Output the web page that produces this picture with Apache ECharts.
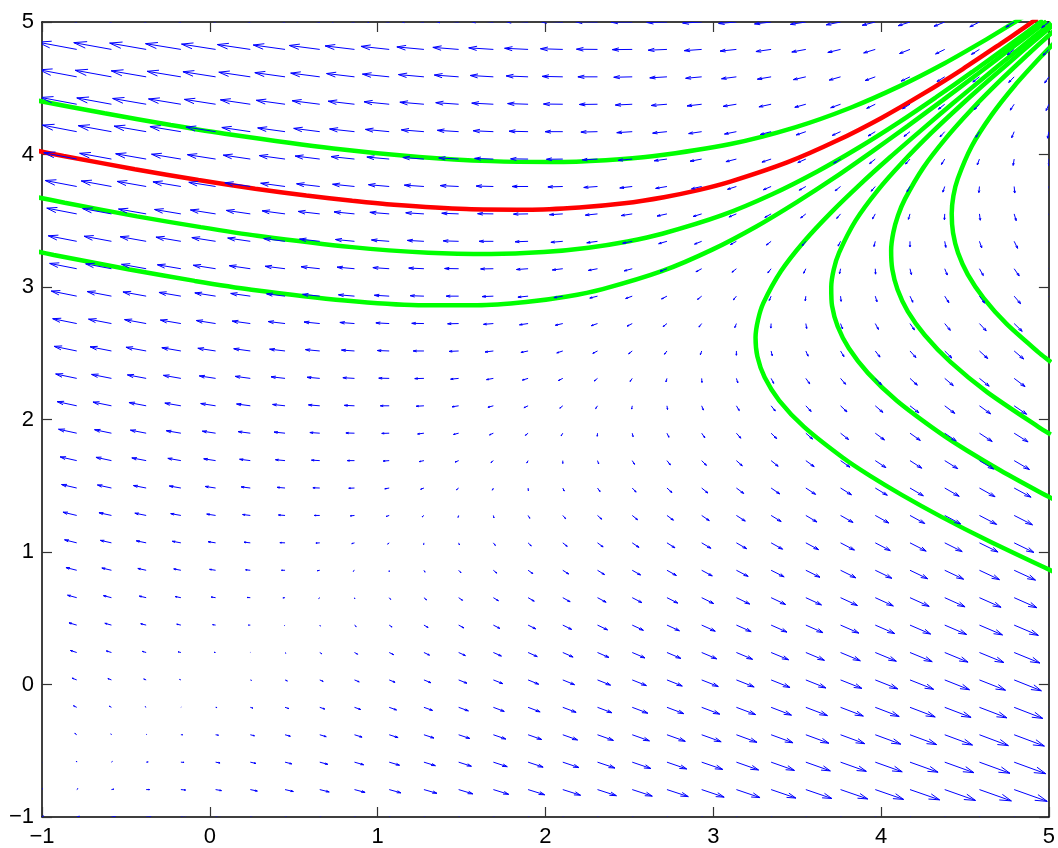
<!DOCTYPE html>
<html>
<head>
<meta charset="utf-8">
<script src="https://cdn.jsdelivr.net/npm/echarts@6/dist/echarts.min.js"></script>
<style>html,body{margin:0;padding:0;background:#fff}#c{width:1058px;height:848px}</style>
</head>
<body>
<div id="c"></div>
<script>
// Quiver grid (30 x 30)
var xs = [-1,-0.7931,-0.5862,-0.3793,-0.1724,0.0345,0.2414,0.4483,0.6552,0.8621,1.069,1.2759,1.4828,1.6897,1.8966,2.1034,2.3103,2.5172,2.7241,2.931,3.1379,3.3448,3.5517,3.7586,3.9655,4.1724,4.3793,4.5862,4.7931,5];
var ys = [-1,-0.7931,-0.5862,-0.3793,-0.1724,0.0345,0.2414,0.4483,0.6552,0.8621,1.069,1.2759,1.4828,1.6897,1.8966,2.1034,2.3103,2.5172,2.7241,2.931,3.1379,3.3448,3.5517,3.7586,3.9655,4.1724,4.3793,4.5862,4.7931,5];
// x-components, one row per ys value
var U = [
[1,1.8,2.7,3.5,4.3,5.1,6,6.8,7.6,8.4,9.3,10.1,10.9,11.8,12.6,13.4,14.2,15.1,15.9,16.7,17.6,18.4,19.2,20,20.9,21.7,22.5,23.3,24.2,25],
[0,0.8,1.6,2.4,3.3,4.1,4.9,5.8,6.6,7.4,8.2,9.1,9.9,10.7,11.6,12.4,13.2,14,14.9,15.7,16.5,17.3,18.2,19,19.8,20.7,21.5,22.3,23.1,24],
[-1.1,-0.2,0.6,1.4,2.2,3.1,3.9,4.7,5.6,6.4,7.2,8,8.9,9.7,10.5,11.3,12.2,13,13.8,14.7,15.5,16.3,17.1,18,18.8,19.6,20.4,21.3,22.1,22.9],
[-2.1,-1.3,-0.4,0.4,1.2,2,2.9,3.7,4.5,5.3,6.2,7,7.8,8.7,9.5,10.3,11.1,12,12.8,13.6,14.4,15.3,16.1,16.9,17.8,18.6,19.4,20.2,21.1,21.9],
[-3.1,-2.3,-1.5,-0.7,0.2,1,1.8,2.7,3.5,4.3,5.1,6,6.8,7.6,8.4,9.3,10.1,10.9,11.8,12.6,13.4,14.2,15.1,15.9,16.7,17.6,18.4,19.2,20,20.9],
[-4.2,-3.3,-2.5,-1.7,-0.9,0,0.8,1.6,2.4,3.3,4.1,4.9,5.8,6.6,7.4,8.2,9.1,9.9,10.7,11.6,12.4,13.2,14,14.9,15.7,16.5,17.3,18.2,19,19.8],
[-5.2,-4.4,-3.6,-2.7,-1.9,-1.1,-0.2,0.6,1.4,2.2,3.1,3.9,4.7,5.6,6.4,7.2,8,8.9,9.7,10.5,11.3,12.2,13,13.8,14.7,15.5,16.3,17.1,18,18.8],
[-6.2,-5.4,-4.6,-3.8,-2.9,-2.1,-1.3,-0.4,0.4,1.2,2,2.9,3.7,4.5,5.3,6.2,7,7.8,8.7,9.5,10.3,11.1,12,12.8,13.6,14.4,15.3,16.1,16.9,17.8],
[-7.3,-6.4,-5.6,-4.8,-4,-3.1,-2.3,-1.5,-0.7,0.2,1,1.8,2.7,3.5,4.3,5.1,6,6.8,7.6,8.4,9.3,10.1,10.9,11.8,12.6,13.4,14.2,15.1,15.9,16.7],
[-8.3,-7.5,-6.7,-5.8,-5,-4.2,-3.3,-2.5,-1.7,-0.9,0,0.8,1.6,2.4,3.3,4.1,4.9,5.8,6.6,7.4,8.2,9.1,9.9,10.7,11.6,12.4,13.2,14,14.9,15.7],
[-9.3,-8.5,-7.7,-6.9,-6,-5.2,-4.4,-3.6,-2.7,-1.9,-1.1,-0.2,0.6,1.4,2.2,3.1,3.9,4.7,5.6,6.4,7.2,8,8.9,9.7,10.5,11.3,12.2,13,13.8,14.7],
[-10.4,-9.6,-8.7,-7.9,-7.1,-6.2,-5.4,-4.6,-3.8,-2.9,-2.1,-1.3,-0.4,0.4,1.2,2,2.9,3.7,4.5,5.3,6.2,7,7.8,8.7,9.5,10.3,11.1,12,12.8,13.6],
[-11.4,-10.6,-9.8,-8.9,-8.1,-7.3,-6.4,-5.6,-4.8,-4,-3.1,-2.3,-1.5,-0.7,0.2,1,1.8,2.7,3.5,4.3,5.1,6,6.8,7.6,8.4,9.3,10.1,10.9,11.8,12.6],
[-12.4,-11.6,-10.8,-10,-9.1,-8.3,-7.5,-6.7,-5.8,-5,-4.2,-3.3,-2.5,-1.7,-0.9,0,0.8,1.6,2.4,3.3,4.1,4.9,5.8,6.6,7.4,8.2,9.1,9.9,10.7,11.6],
[-13.5,-12.7,-11.8,-11,-10.2,-9.3,-8.5,-7.7,-6.9,-6,-5.2,-4.4,-3.6,-2.7,-1.9,-1.1,-0.2,0.6,1.4,2.2,3.1,3.9,4.7,5.6,6.4,7.2,8,8.9,9.7,10.5],
[-14.5,-13.7,-12.9,-12,-11.2,-10.4,-9.6,-8.7,-7.9,-7.1,-6.2,-5.4,-4.6,-3.8,-2.9,-2.1,-1.3,-0.4,0.4,1.2,2,2.9,3.7,4.5,5.3,6.2,7,7.8,8.7,9.5],
[-15.6,-14.7,-13.9,-13.1,-12.2,-11.4,-10.6,-9.8,-8.9,-8.1,-7.3,-6.4,-5.6,-4.8,-4,-3.1,-2.3,-1.5,-0.7,0.2,1,1.8,2.7,3.5,4.3,5.1,6,6.8,7.6,8.4],
[-16.6,-15.8,-14.9,-14.1,-13.3,-12.4,-11.6,-10.8,-10,-9.1,-8.3,-7.5,-6.7,-5.8,-5,-4.2,-3.3,-2.5,-1.7,-0.9,0,0.8,1.6,2.4,3.3,4.1,4.9,5.8,6.6,7.4],
[-17.6,-16.8,-16,-15.1,-14.3,-13.5,-12.7,-11.8,-11,-10.2,-9.3,-8.5,-7.7,-6.9,-6,-5.2,-4.4,-3.6,-2.7,-1.9,-1.1,-0.2,0.6,1.4,2.2,3.1,3.9,4.7,5.6,6.4],
[-18.7,-17.8,-17,-16.2,-15.3,-14.5,-13.7,-12.9,-12,-11.2,-10.4,-9.6,-8.7,-7.9,-7.1,-6.2,-5.4,-4.6,-3.8,-2.9,-2.1,-1.3,-0.4,0.4,1.2,2,2.9,3.7,4.5,5.3],
[-19.7,-18.9,-18,-17.2,-16.4,-15.6,-14.7,-13.9,-13.1,-12.2,-11.4,-10.6,-9.8,-8.9,-8.1,-7.3,-6.4,-5.6,-4.8,-4,-3.1,-2.3,-1.5,-0.7,0.2,1,1.8,2.7,3.5,4.3],
[-20.7,-19.9,-19.1,-18.2,-17.4,-16.6,-15.8,-14.9,-14.1,-13.3,-12.4,-11.6,-10.8,-10,-9.1,-8.3,-7.5,-6.7,-5.8,-5,-4.2,-3.3,-2.5,-1.7,-0.9,0,0.8,1.6,2.4,3.3],
[-21.8,-20.9,-20.1,-19.3,-18.4,-17.6,-16.8,-16,-15.1,-14.3,-13.5,-12.7,-11.8,-11,-10.2,-9.3,-8.5,-7.7,-6.9,-6,-5.2,-4.4,-3.6,-2.7,-1.9,-1.1,-0.2,0.6,1.4,2.2],
[-22.8,-22,-21.1,-20.3,-19.5,-18.7,-17.8,-17,-16.2,-15.3,-14.5,-13.7,-12.9,-12,-11.2,-10.4,-9.6,-8.7,-7.9,-7.1,-6.2,-5.4,-4.6,-3.8,-2.9,-2.1,-1.3,-0.4,0.4,1.2],
[-23.8,-23,-22.2,-21.3,-20.5,-19.7,-18.9,-18,-17.2,-16.4,-15.6,-14.7,-13.9,-13.1,-12.2,-11.4,-10.6,-9.8,-8.9,-8.1,-7.3,-6.4,-5.6,-4.8,-4,-3.1,-2.3,-1.5,-0.7,0.2],
[-24.9,-24,-23.2,-22.4,-21.6,-20.7,-19.9,-19.1,-18.2,-17.4,-16.6,-15.8,-14.9,-14.1,-13.3,-12.4,-11.6,-10.8,-10,-9.1,-8.3,-7.5,-6.7,-5.8,-5,-4.2,-3.3,-2.5,-1.7,-0.9],
[-25.9,-25.1,-24.2,-23.4,-22.6,-21.8,-20.9,-20.1,-19.3,-18.4,-17.6,-16.8,-16,-15.1,-14.3,-13.5,-12.7,-11.8,-11,-10.2,-9.3,-8.5,-7.7,-6.9,-6,-5.2,-4.4,-3.6,-2.7,-1.9],
[-26.9,-26.1,-25.3,-24.4,-23.6,-22.8,-22,-21.1,-20.3,-19.5,-18.7,-17.8,-17,-16.2,-15.3,-14.5,-13.7,-12.9,-12,-11.2,-10.4,-9.6,-8.7,-7.9,-7.1,-6.2,-5.4,-4.6,-3.8,-2.9],
[-28,-27.1,-26.3,-25.5,-24.7,-23.8,-23,-22.2,-21.3,-20.5,-19.7,-18.9,-18,-17.2,-16.4,-15.6,-14.7,-13.9,-13.1,-12.2,-11.4,-10.6,-9.8,-8.9,-8.1,-7.3,-6.4,-5.6,-4.8,-4],
[-29,-28.2,-27.3,-26.5,-25.7,-24.9,-24,-23.2,-22.4,-21.6,-20.7,-19.9,-19.1,-18.2,-17.4,-16.6,-15.8,-14.9,-14.1,-13.3,-12.4,-11.6,-10.8,-10,-9.1,-8.3,-7.5,-6.7,-5.8,-5]
];
// y-components, one row per ys value
var V = [
[1,0.6,0.2,-0.2,-0.7,-1.1,-1.5,-1.9,-2.3,-2.7,-3.1,-3.6,-4,-4.4,-4.8,-5.2,-5.6,-6,-6.4,-6.9,-7.3,-7.7,-8.1,-8.5,-8.9,-9.3,-9.8,-10.2,-10.6,-11],
[1.2,0.8,0.4,0,-0.4,-0.9,-1.3,-1.7,-2.1,-2.5,-2.9,-3.3,-3.8,-4.2,-4.6,-5,-5.4,-5.8,-6.2,-6.7,-7.1,-7.5,-7.9,-8.3,-8.7,-9.1,-9.6,-10,-10.4,-10.8],
[1.4,1,0.6,0.2,-0.2,-0.7,-1.1,-1.5,-1.9,-2.3,-2.7,-3.1,-3.6,-4,-4.4,-4.8,-5.2,-5.6,-6,-6.4,-6.9,-7.3,-7.7,-8.1,-8.5,-8.9,-9.3,-9.8,-10.2,-10.6],
[1.6,1.2,0.8,0.4,0,-0.4,-0.9,-1.3,-1.7,-2.1,-2.5,-2.9,-3.3,-3.8,-4.2,-4.6,-5,-5.4,-5.8,-6.2,-6.7,-7.1,-7.5,-7.9,-8.3,-8.7,-9.1,-9.6,-10,-10.4],
[1.8,1.4,1,0.6,0.2,-0.2,-0.7,-1.1,-1.5,-1.9,-2.3,-2.7,-3.1,-3.6,-4,-4.4,-4.8,-5.2,-5.6,-6,-6.4,-6.9,-7.3,-7.7,-8.1,-8.5,-8.9,-9.3,-9.8,-10.2],
[2,1.6,1.2,0.8,0.4,0,-0.4,-0.9,-1.3,-1.7,-2.1,-2.5,-2.9,-3.3,-3.8,-4.2,-4.6,-5,-5.4,-5.8,-6.2,-6.7,-7.1,-7.5,-7.9,-8.3,-8.7,-9.1,-9.6,-10],
[2.2,1.8,1.4,1,0.6,0.2,-0.2,-0.7,-1.1,-1.5,-1.9,-2.3,-2.7,-3.1,-3.6,-4,-4.4,-4.8,-5.2,-5.6,-6,-6.4,-6.9,-7.3,-7.7,-8.1,-8.5,-8.9,-9.3,-9.8],
[2.4,2,1.6,1.2,0.8,0.4,0,-0.4,-0.9,-1.3,-1.7,-2.1,-2.5,-2.9,-3.3,-3.8,-4.2,-4.6,-5,-5.4,-5.8,-6.2,-6.7,-7.1,-7.5,-7.9,-8.3,-8.7,-9.1,-9.6],
[2.7,2.2,1.8,1.4,1,0.6,0.2,-0.2,-0.7,-1.1,-1.5,-1.9,-2.3,-2.7,-3.1,-3.6,-4,-4.4,-4.8,-5.2,-5.6,-6,-6.4,-6.9,-7.3,-7.7,-8.1,-8.5,-8.9,-9.3],
[2.9,2.4,2,1.6,1.2,0.8,0.4,0,-0.4,-0.9,-1.3,-1.7,-2.1,-2.5,-2.9,-3.3,-3.8,-4.2,-4.6,-5,-5.4,-5.8,-6.2,-6.7,-7.1,-7.5,-7.9,-8.3,-8.7,-9.1],
[3.1,2.7,2.2,1.8,1.4,1,0.6,0.2,-0.2,-0.7,-1.1,-1.5,-1.9,-2.3,-2.7,-3.1,-3.6,-4,-4.4,-4.8,-5.2,-5.6,-6,-6.4,-6.9,-7.3,-7.7,-8.1,-8.5,-8.9],
[3.3,2.9,2.4,2,1.6,1.2,0.8,0.4,0,-0.4,-0.9,-1.3,-1.7,-2.1,-2.5,-2.9,-3.3,-3.8,-4.2,-4.6,-5,-5.4,-5.8,-6.2,-6.7,-7.1,-7.5,-7.9,-8.3,-8.7],
[3.5,3.1,2.7,2.2,1.8,1.4,1,0.6,0.2,-0.2,-0.7,-1.1,-1.5,-1.9,-2.3,-2.7,-3.1,-3.6,-4,-4.4,-4.8,-5.2,-5.6,-6,-6.4,-6.9,-7.3,-7.7,-8.1,-8.5],
[3.7,3.3,2.9,2.4,2,1.6,1.2,0.8,0.4,0,-0.4,-0.9,-1.3,-1.7,-2.1,-2.5,-2.9,-3.3,-3.8,-4.2,-4.6,-5,-5.4,-5.8,-6.2,-6.7,-7.1,-7.5,-7.9,-8.3],
[3.9,3.5,3.1,2.7,2.2,1.8,1.4,1,0.6,0.2,-0.2,-0.7,-1.1,-1.5,-1.9,-2.3,-2.7,-3.1,-3.6,-4,-4.4,-4.8,-5.2,-5.6,-6,-6.4,-6.9,-7.3,-7.7,-8.1],
[4.1,3.7,3.3,2.9,2.4,2,1.6,1.2,0.8,0.4,0,-0.4,-0.9,-1.3,-1.7,-2.1,-2.5,-2.9,-3.3,-3.8,-4.2,-4.6,-5,-5.4,-5.8,-6.2,-6.7,-7.1,-7.5,-7.9],
[4.3,3.9,3.5,3.1,2.7,2.2,1.8,1.4,1,0.6,0.2,-0.2,-0.7,-1.1,-1.5,-1.9,-2.3,-2.7,-3.1,-3.6,-4,-4.4,-4.8,-5.2,-5.6,-6,-6.4,-6.9,-7.3,-7.7],
[4.5,4.1,3.7,3.3,2.9,2.4,2,1.6,1.2,0.8,0.4,0,-0.4,-0.9,-1.3,-1.7,-2.1,-2.5,-2.9,-3.3,-3.8,-4.2,-4.6,-5,-5.4,-5.8,-6.2,-6.7,-7.1,-7.5],
[4.7,4.3,3.9,3.5,3.1,2.7,2.2,1.8,1.4,1,0.6,0.2,-0.2,-0.7,-1.1,-1.5,-1.9,-2.3,-2.7,-3.1,-3.6,-4,-4.4,-4.8,-5.2,-5.6,-6,-6.4,-6.9,-7.3],
[4.9,4.5,4.1,3.7,3.3,2.9,2.4,2,1.6,1.2,0.8,0.4,0,-0.4,-0.9,-1.3,-1.7,-2.1,-2.5,-2.9,-3.3,-3.8,-4.2,-4.6,-5,-5.4,-5.8,-6.2,-6.7,-7.1],
[5.1,4.7,4.3,3.9,3.5,3.1,2.7,2.2,1.8,1.4,1,0.6,0.2,-0.2,-0.7,-1.1,-1.5,-1.9,-2.3,-2.7,-3.1,-3.6,-4,-4.4,-4.8,-5.2,-5.6,-6,-6.4,-6.9],
[5.3,4.9,4.5,4.1,3.7,3.3,2.9,2.4,2,1.6,1.2,0.8,0.4,0,-0.4,-0.9,-1.3,-1.7,-2.1,-2.5,-2.9,-3.3,-3.8,-4.2,-4.6,-5,-5.4,-5.8,-6.2,-6.7],
[5.6,5.1,4.7,4.3,3.9,3.5,3.1,2.7,2.2,1.8,1.4,1,0.6,0.2,-0.2,-0.7,-1.1,-1.5,-1.9,-2.3,-2.7,-3.1,-3.6,-4,-4.4,-4.8,-5.2,-5.6,-6,-6.4],
[5.8,5.3,4.9,4.5,4.1,3.7,3.3,2.9,2.4,2,1.6,1.2,0.8,0.4,0,-0.4,-0.9,-1.3,-1.7,-2.1,-2.5,-2.9,-3.3,-3.8,-4.2,-4.6,-5,-5.4,-5.8,-6.2],
[6,5.6,5.1,4.7,4.3,3.9,3.5,3.1,2.7,2.2,1.8,1.4,1,0.6,0.2,-0.2,-0.7,-1.1,-1.5,-1.9,-2.3,-2.7,-3.1,-3.6,-4,-4.4,-4.8,-5.2,-5.6,-6],
[6.2,5.8,5.3,4.9,4.5,4.1,3.7,3.3,2.9,2.4,2,1.6,1.2,0.8,0.4,0,-0.4,-0.9,-1.3,-1.7,-2.1,-2.5,-2.9,-3.3,-3.8,-4.2,-4.6,-5,-5.4,-5.8],
[6.4,6,5.6,5.1,4.7,4.3,3.9,3.5,3.1,2.7,2.2,1.8,1.4,1,0.6,0.2,-0.2,-0.7,-1.1,-1.5,-1.9,-2.3,-2.7,-3.1,-3.6,-4,-4.4,-4.8,-5.2,-5.6],
[6.6,6.2,5.8,5.3,4.9,4.5,4.1,3.7,3.3,2.9,2.4,2,1.6,1.2,0.8,0.4,0,-0.4,-0.9,-1.3,-1.7,-2.1,-2.5,-2.9,-3.3,-3.8,-4.2,-4.6,-5,-5.4],
[6.8,6.4,6,5.6,5.1,4.7,4.3,3.9,3.5,3.1,2.7,2.2,1.8,1.4,1,0.6,0.2,-0.2,-0.7,-1.1,-1.5,-1.9,-2.3,-2.7,-3.1,-3.6,-4,-4.4,-4.8,-5.2],
[7,6.6,6.2,5.8,5.3,4.9,4.5,4.1,3.7,3.3,2.9,2.4,2,1.6,1.2,0.8,0.4,0,-0.4,-0.9,-1.3,-1.7,-2.1,-2.5,-2.9,-3.3,-3.8,-4.2,-4.6,-5]
];
// Solution curves [x, y]
var curveRed = [[4.931,5.027],[4.823,4.931],[4.712,4.835],[4.487,4.645],[4.252,4.459],[4.005,4.278],[3.738,4.105],[3.444,3.942],[3.107,3.797],[2.917,3.733],[2.706,3.678],[2.470,3.632],[2.201,3.600],[1.892,3.583],[1.529,3.588],[1.097,3.621],[0.849,3.651],[0.575,3.690],[0.270,3.742],[-0.068,3.807],[-0.447,3.889],[-0.872,3.989],[-1.056,4.035]];
var curveG1 = [[4.981,5.148],[4.866,5.054],[4.748,4.961],[4.628,4.869],[4.379,4.689],[4.111,4.516],[3.818,4.353],[3.488,4.205],[3.103,4.079],[2.636,3.986],[2.359,3.957],[2.042,3.943],[1.676,3.950],[1.246,3.982],[0.736,4.046],[0.122,4.151],[-0.233,4.223],[-0.627,4.311],[-1.065,4.416]];
var curveG2 = [[4.965,5.014],[4.756,4.818],[4.543,4.623],[4.325,4.430],[4.101,4.239],[3.868,4.053],[3.620,3.872],[3.351,3.700],[3.049,3.540],[2.696,3.402],[2.490,3.344],[2.257,3.297],[1.990,3.264],[1.676,3.249],[1.302,3.259],[0.847,3.301],[0.282,3.387],[-0.054,3.452],[-0.434,3.533],[-0.865,3.636],[-1.054,3.684]];
var curveG3 = [[4.986,5.006],[4.782,4.807],[4.577,4.609],[4.370,4.412],[4.160,4.216],[3.946,4.022],[3.727,3.829],[3.498,3.641],[3.257,3.457],[2.994,3.282],[2.697,3.121],[2.341,2.984],[2.129,2.928],[1.884,2.886],[1.594,2.862],[1.243,2.863],[0.806,2.898],[0.249,2.980],[-0.090,3.046],[-0.479,3.132],[-0.930,3.242],[-1.029,3.268]];
var curveG4 = [[5.014,4.994],[4.916,4.894],[4.818,4.793],[4.623,4.591],[4.430,4.388],[4.240,4.184],[4.053,3.979],[3.872,3.771],[3.700,3.560],[3.541,3.344],[3.403,3.119],[3.299,2.880],[3.267,2.753],[3.252,2.619],[3.263,2.475],[3.306,2.318],[3.393,2.143],[3.541,1.944],[3.773,1.711],[3.930,1.578],[4.123,1.431],[4.357,1.267],[4.642,1.083],[4.987,0.875],[5.065,0.830]];
var curveG5 = [[5.035,4.986],[4.939,4.884],[4.844,4.782],[4.657,4.577],[4.474,4.370],[4.298,4.161],[4.132,3.947],[3.979,3.728],[3.848,3.501],[3.750,3.260],[3.718,3.133],[3.703,2.999],[3.708,2.857],[3.741,2.704],[3.808,2.537],[3.921,2.352],[4.094,2.142],[4.348,1.901],[4.514,1.764],[4.712,1.615],[4.947,1.451],[5.053,1.381]];
var curveG6 = [[5.066,4.974],[4.974,4.870],[4.884,4.766],[4.709,4.557],[4.542,4.343],[4.388,4.125],[4.251,3.899],[4.142,3.663],[4.101,3.539],[4.073,3.411],[4.060,3.276],[4.067,3.133],[4.098,2.981],[4.159,2.816],[4.261,2.636],[4.413,2.435],[4.632,2.207],[4.937,1.945],[5.011,1.887]];
var curveG7 = [[5.206,5.057],[5.120,4.952],[5.035,4.846],[4.953,4.739],[4.797,4.521],[4.658,4.297],[4.541,4.064],[4.457,3.817],[4.431,3.687],[4.421,3.552],[4.429,3.408],[4.459,3.256],[4.517,3.093],[4.611,2.916],[4.748,2.721],[4.942,2.503],[4.988,2.457],[5.013,2.433]];
var xTicks = [-1, 0, 1, 2, 3, 4, 5];
var yTicks = [-1, 0, 1, 2, 3, 4, 5];

// build quiver items
var arrows = [];
var maxMag = 0;
for (var j = 0; j < ys.length; j++) {
  for (var i = 0; i < xs.length; i++) {
    arrows.push([xs[i], ys[j], U[j][i], V[j][i]]);
    var m = Math.sqrt(U[j][i]*U[j][i] + V[j][i]*V[j][i]);
    if (m > maxMag) maxMag = m;
  }
}
var delx = (xs[xs.length-1] - xs[0]) / xs.length;
var dely = (ys[ys.length-1] - ys[0]) / ys.length;
var scale = 0.9 * Math.sqrt(delx*delx + dely*dely) / maxMag;
var alpha = 0.33, beta = 0.33;

var FONT = 'Liberation Sans, Arial, Helvetica, sans-serif';
function fmt(v) { return v < 0 ? '\u2212' + Math.abs(v) : String(v); }
var axisLineStyle = { color: '#000', width: 1.5 };
var tickStyle = { color: '#333', width: 1.2 };

function lineSeries(data, color) {
  return {
    type: 'line', data: data, xAxisIndex: 0, yAxisIndex: 0,
    showSymbol: false, symbol: 'none', smooth: 0.25, clip: true, z: 2,
    lineStyle: { color: color, width: 4.5, cap: 'butt' }, silent: true
  };
}

var chart = echarts.init(document.getElementById('c'), null, { renderer: 'canvas' });
chart.setOption({
  animation: false,
  backgroundColor: '#fff',
  grid: { left: 42, top: 22, width: 1010, height: 796, containLabel: false },
  xAxis: [
    { type: 'value', min: -1, max: 5, interval: 1, position: 'bottom',
      axisLine: { show: true, onZero: false, lineStyle: axisLineStyle },
      axisTick: { show: true, inside: true, length: 10, lineStyle: tickStyle },
      axisLabel: { color: '#000', fontSize: 22, fontFamily: FONT, margin: 9, formatter: fmt },
      splitLine: { show: false } },
    { type: 'value', min: -1, max: 5, interval: 1, position: 'top',
      axisLine: { show: true, onZero: false, lineStyle: axisLineStyle },
      axisTick: { show: true, inside: true, length: 10, lineStyle: tickStyle },
      axisLabel: { show: false }, splitLine: { show: false } }
  ],
  yAxis: [
    { type: 'value', min: -1, max: 5, interval: 1, position: 'left',
      axisLine: { show: true, onZero: false, lineStyle: axisLineStyle },
      axisTick: { show: true, inside: true, length: 10, lineStyle: tickStyle },
      axisLabel: { color: '#000', fontSize: 22, fontFamily: FONT, margin: 8, formatter: fmt },
      splitLine: { show: false } },
    { type: 'value', min: -1, max: 5, interval: 1, position: 'right',
      axisLine: { show: true, onZero: false, lineStyle: axisLineStyle },
      axisTick: { show: true, inside: true, length: 10, lineStyle: tickStyle },
      axisLabel: { show: false }, splitLine: { show: false } }
  ],
  series: [
    lineSeries(curveRed, '#ff0000'),
    lineSeries(curveG1, '#00ff00'),
    lineSeries(curveG2, '#00ff00'),
    lineSeries(curveG3, '#00ff00'),
    lineSeries(curveG4, '#00ff00'),
    lineSeries(curveG5, '#00ff00'),
    lineSeries(curveG6, '#00ff00'),
    lineSeries(curveG7, '#00ff00'),
    {
      type: 'custom', xAxisIndex: 0, yAxisIndex: 0, clip: true, z: 3, silent: true,
      dimensions: ['x', 'y', 'u', 'v'],
      encode: { x: 0, y: 1 },
      data: arrows,
      renderItem: function (params, api) {
        var x = api.value(0), y = api.value(1);
        var u = api.value(2) * scale, v = api.value(3) * scale;
        var p0 = api.coord([x, y]);
        var p1 = api.coord([x + u, y + v]);
        var h1 = api.coord([x + u - alpha * (u + beta * v), y + v - alpha * (v - beta * u)]);
        var h2 = api.coord([x + u - alpha * (u - beta * v), y + v - alpha * (v + beta * u)]);
        var st = { stroke: '#0000ff', lineWidth: 1, fill: null };
        return { type: 'group', children: [
          { type: 'polyline', shape: { points: [p0, p1] }, style: st },
          { type: 'polyline', shape: { points: [h1, p1, h2] }, style: st }
        ]};
      }
    }
  ]
});
</script>
</body>
</html>
